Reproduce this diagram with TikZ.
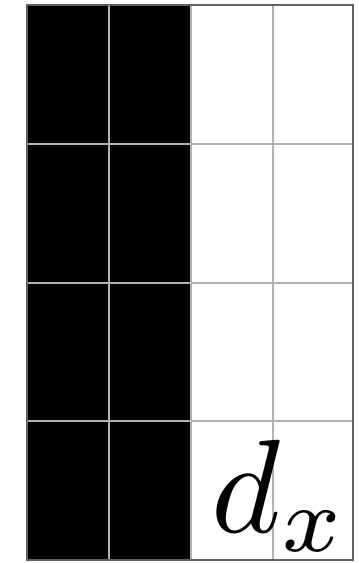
\documentclass[tikz,border=0pt]{standalone}
\begin{document}
\begin{tikzpicture}[x=1pt,y=-1pt,
  gridline/.style={draw=black!30,line width=2pt},
  outline/.style={draw=black!62,line width=2.5pt}]
\useasboundingbox (0,0) rectangle (359,563);
\fill[black] (27,5) rectangle (191,560);
\foreach \x in {109,191,273} \draw[gridline] (\x,5) -- (\x,560);
\foreach \y in {144,283,421} \draw[gridline] (27,\y) -- (353,\y);
\draw[outline] (27,5) rectangle (353,560);
\node[anchor=base,inner sep=0pt] (dx) at (280,532) {\scalebox{13.3}{$d_x$}};
\end{tikzpicture}
\end{document}
